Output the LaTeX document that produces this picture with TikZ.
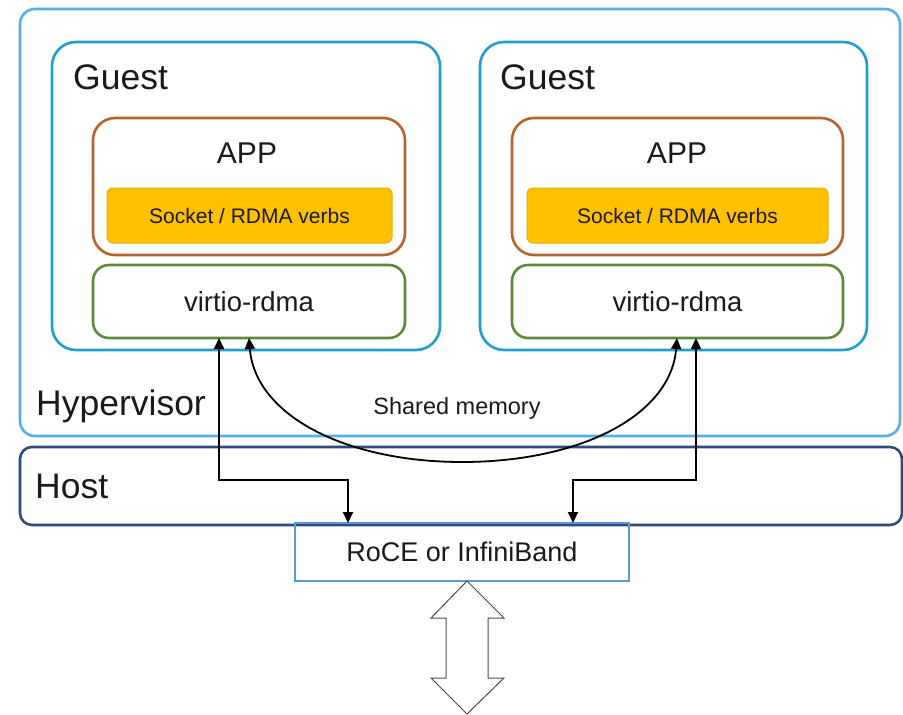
\documentclass[tikz,border=0pt]{standalone}
\usepackage{fontspec}
\setmainfont{Liberation Sans}
\usetikzlibrary{arrows.meta,calc}
\definecolor{hypc}{HTML}{55AEEE}
\definecolor{guestc}{HTML}{1E9FD0}
\definecolor{appc}{HTML}{B8622C}
\definecolor{sockfill}{HTML}{FFC000}
\definecolor{sockdraw}{HTML}{E8B000}
\definecolor{virtc}{HTML}{5A8A3A}
\definecolor{hostc}{HTML}{2E4A80}
\definecolor{rocec}{HTML}{5B9BD5}
\definecolor{txt}{HTML}{1A1A1A}
\tikzset{
  box/.style={rectangle, inner sep=0pt, outer sep=0pt, line width=2.6pt},
  hypbox/.style={box, draw=hypc, rounded corners=15pt},
  guestbox/.style={box, draw=guestc, rounded corners=24pt},
  appbox/.style={box, draw=appc, rounded corners=22pt, font=\fontsize{30}{32}\selectfont, text=txt},
  sockbox/.style={box, draw=sockdraw, line width=1pt, fill=sockfill, rounded corners=6pt, font=\fontsize{21}{24}\selectfont, text=txt},
  virtbox/.style={box, draw=virtc, rounded corners=16pt, font=\fontsize{27.5}{30}\selectfont, text=txt},
  hostbox/.style={box, draw=hostc, rounded corners=12pt},
  rocebox/.style={box, draw=rocec, font=\fontsize{27}{30}\selectfont, text=txt},
  biglabel/.style={inner sep=0pt, anchor=base west, font=\fontsize{35.5}{38}\selectfont, text=txt},
  conn/.style={line width=1.8pt, black, {Triangle[length=11pt,width=10pt]}-{Triangle[length=11pt,width=10pt]}},
}
\begin{document}
\begin{tikzpicture}[x=1pt,y=-1pt]
\useasboundingbox (0,0) rectangle (903,715);
% outer boxes
\node[hypbox, minimum width=880pt, minimum height=427pt] (hyp) at (460,222.5) {};
\node[hostbox, minimum width=882pt, minimum height=78pt] (host) at (461,486) {};
% guests
\node[guestbox, minimum width=388pt, minimum height=308pt] (g1) at (246,196) {};
\node[guestbox, minimum width=387pt, minimum height=308pt] (g2) at (673.5,196) {};
% app boxes
\node[appbox, minimum width=312pt, minimum height=137pt] (app1) at (249,186.5) {};
\node[appbox, minimum width=331pt, minimum height=137pt] (app2) at (677.5,186.5) {};
\node[inner sep=0pt, font=\fontsize{30}{32}\selectfont, text=txt] (app1t) at (247,153) {APP};
\node[inner sep=0pt, font=\fontsize{30}{32}\selectfont, text=txt] (app2t) at (677,153) {APP};
% socket boxes
\node[sockbox, minimum width=285pt, minimum height=55pt] (s1) at (249.5,215.5) {Socket / RDMA verbs};
\node[sockbox, minimum width=301pt, minimum height=55pt] (s2) at (677.5,215.5) {Socket / RDMA verbs};
% virtio
\node[virtbox, minimum width=312pt, minimum height=73pt] (v1) at (249,301.5) {virtio-rdma};
\node[virtbox, minimum width=331pt, minimum height=73pt] (v2) at (677.5,301.5) {virtio-rdma};
% labels
\node[biglabel] (gl1) at (73,89) {Guest};
\node[biglabel] (gl2) at (500,89) {Guest};
\node[biglabel] (hl) at (36,415) {Hypervisor};
\node[biglabel] (hol) at (35,498) {Host};
% RoCE
\node[rocebox, minimum width=334pt, minimum height=58pt] (roce) at (462,552) {RoCE or InfiniBand};
% connectors
\coordinate (la) at (219,480);
\coordinate (lb) at (348,480);
\coordinate (ra) at (696,480);
\coordinate (rb) at (573,480);
\draw[conn] (v1.south -| la) -- (la) -- (lb) -- (roce.north -| lb);
\draw[conn] (v2.south -| ra) -- (ra) -- (rb) -- (roce.north -| rb);
\coordinate (cs) at (249,338);
\coordinate (ce) at (677,338);
\coordinate (cm) at (462,462);
\draw[conn] (v1.south -| cs) .. controls (255,415) and (345,462) .. (cm) .. controls (581,462) and (671,415) .. (v2.south -| ce);
\node[inner sep=0pt, font=\fontsize{23.5}{26}\selectfont, text=txt] (sm) at (457,408) {Shared memory};
% double arrow
\coordinate (dt) at (467,582);
\draw[line width=1pt, draw=black!70, fill=white]
  (roce.south -| dt) -- (504,618) -- (488,618) -- (488,678) -- (504,678) -- (467,714)
  -- (431,678) -- (446,678) -- (446,618) -- (431,618) -- cycle;
\end{tikzpicture}
\end{document}
